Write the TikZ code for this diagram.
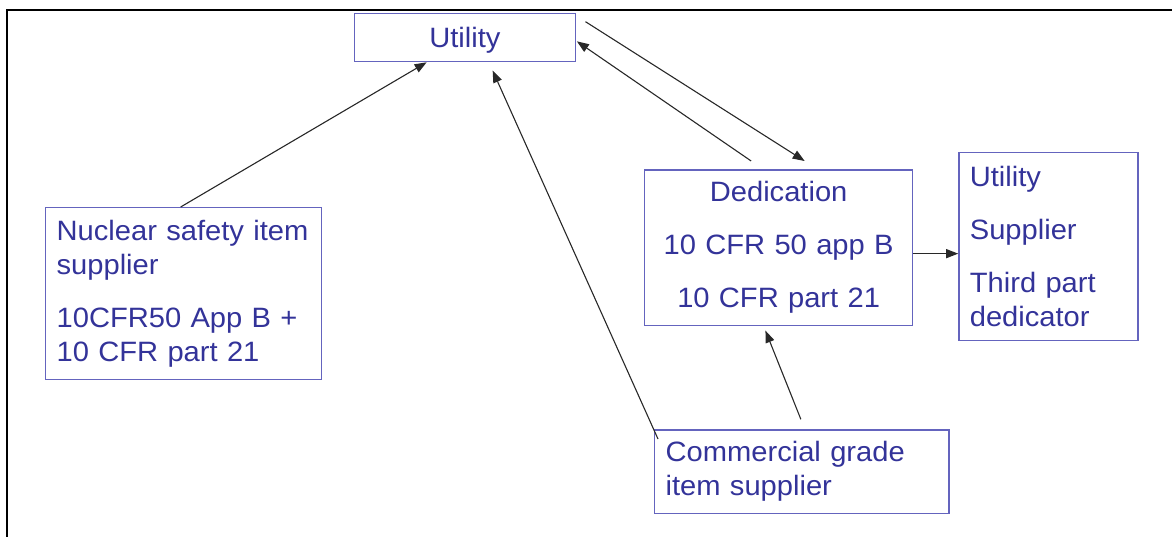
\documentclass[tikz,border=0pt]{standalone}
\usepackage{fontspec}
\setmainfont{Liberation Sans}[FakeStretch=1.04]
\usetikzlibrary{arrows.meta,calc}
\definecolor{textblue}{RGB}{51,51,153}
\definecolor{boxblue}{RGB}{100,100,190}
\definecolor{arrowgray}{RGB}{40,40,40}
\tikzset{
  boxnode/.style={draw=boxblue, line width=1.3pt, text=textblue, anchor=north west,
    inner xsep=11pt, inner ysep=0pt, font=\fontsize{28}{34}\selectfont},
  arr/.style={draw=arrowgray, line width=1.1pt, -{Triangle[length=12pt,width=9pt]}},
  frame/.style={draw=black, line width=2.3pt}
}
\begin{document}
\begin{tikzpicture}[x=1pt,y=-1pt]
\useasboundingbox (0,0) rectangle (1172,537);
\draw[frame] (7,537) -- (7,10) -- (1172,10);

\node[boxnode, align=center, text depth=0pt, minimum width=221.4pt, minimum height=48pt] (util) at (353.6,13) {Utility};
\node[boxnode, align=left, text width=254pt, minimum height=172pt] (nuc) at (45,207)
  {Nuclear safety item\\supplier\\[19pt]10CFR50 App B +\\10 CFR part 21};
\node[boxnode, align=center, text width=246pt, minimum height=155pt] (ded) at (644,169.5)
  {Dedication\\[19pt]10 CFR 50 app B\\[19pt]10 CFR part 21};
\node[boxnode, align=left, text width=157.2pt, minimum height=188pt] (parties) at (958.2,151.7)
  {Utility\\[19pt]Supplier\\[19pt]Third part\\dedicator};
\node[boxnode, align=left, text width=272.4pt, minimum height=83.4pt] (comm) at (654,429.3)
  {Commercial grade\\item supplier};

\draw[arr] ($(nuc.north)+(-3,0)$) -- ($(util.south)+(-38.3,0)$);
\draw[arr] ($(comm.north west)+(4,9.7)$) -- ($(util.south)+(27.7,8.3)$);
\draw[arr] ($(util.north east)+(9.2,8.7)$) -- ($(ded.north)+(26,-8.5)$);
\draw[arr] ($(ded.north)+(-27.5,-8.5)$) -- ($(util.east)+(0.6,3.7)$);
\draw[arr] ($(ded.east)+(0,6)$) -- ($(parties.west |- ded.east)+(0,6)$);
\draw[arr] ($(comm.north)+(-1,-10)$) -- ($(ded.south)+(-13.2,4.8)$);
\end{tikzpicture}
\end{document}
